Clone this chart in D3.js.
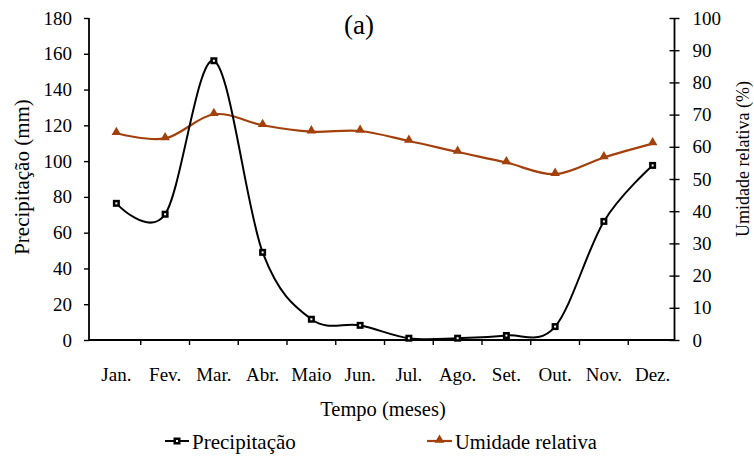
<!DOCTYPE html>
<html><head><meta charset="utf-8">
<script src="https://cdn.jsdelivr.net/npm/d3@7"></script>
<style>body{margin:0;background:#fff}svg{display:block}text{font-family:"Liberation Serif","Times New Roman",serif;fill:#000}</style>
</head><body>
<svg id="c" width="754" height="456"></svg>
<script>
const months = ["Jan.","Fev.","Mar.","Abr.","Maio","Jun.","Jul.","Ago.","Set.","Out.","Nov.","Dez."];
const precipitacao = [76.4, 70.3, 156.1, 49, 11.6, 8.2, 1, 1, 2.5, 7.5, 66.3, 97.6];
const umidade = [64.2, 62.6, 70.1, 66.7, 64.7, 64.9, 61.8, 58.4, 55.1, 51.5, 56.7, 61];
const leftTicks = [0,20,40,60,80,100,120,140,160,180];
const rightTicks = [0,10,20,30,40,50,60,70,80,90,100];

const svg = d3.select("#c");
const axL = 89, axR = 674.5, yTop = 18, yBot = 340;
const x = d3.scalePoint().domain(months).range([92, 677]).padding(0.5);
const yL = d3.scaleLinear().domain([0,180]).range([yBot, yTop]);
const yR = d3.scaleLinear().domain([0,100]).range([yBot, yTop]);
const rust = "#A3400C";
const fs = 19;

// left axis
const gL = svg.append("g").attr("transform", `translate(${axL},0)`)
  .call(d3.axisLeft(yL).tickValues(leftTicks).tickSize(5).tickPadding(12).tickFormat(d3.format("d")));
// right axis (cross ticks)
const gR = svg.append("g").attr("transform", `translate(${axR},0)`)
  .call(d3.axisRight(yR).tickValues(rightTicks).tickSize(5).tickPadding(13).tickFormat(d3.format("d")));
gR.selectAll(".tick line").attr("x1", -5);
// bottom axis
const bounds = months.map(m => x(m) - x.step()/2);
const gB = svg.append("g").attr("transform", `translate(0,${yBot})`);
gB.append("line").attr("x1", axL).attr("x2", axR).attr("stroke", "#000").attr("stroke-width", 1.8);
gB.selectAll("line.t").data(bounds.slice(1)).join("line").attr("class","t")
  .attr("x1", d=>d).attr("x2", d=>d).attr("y1", 0).attr("y2", 5).attr("stroke","#000").attr("stroke-width",1.4);
gB.selectAll("text").data(months).join("text")
  .attr("x", d => x(d)).attr("y", 41).attr("text-anchor","middle").attr("font-size", fs).text(d=>d);

[gL, gR].forEach(g => {
  g.selectAll(".domain").attr("stroke","#000").attr("stroke-width",1.8).attr("d", `M0,${yTop}V${yBot}`);
  g.selectAll(".tick line").attr("stroke","#000").attr("stroke-width",1.4);
  g.selectAll(".tick text").attr("font-size", fs).attr("font-family","Liberation Serif");
});

// lines
const lineP = d3.line().x((d,i)=>x(months[i])).y(d=>yL(d)).curve(d3.curveCardinal.tension(0));
const lineU = d3.line().x((d,i)=>x(months[i])).y(d=>yR(d)).curve(d3.curveCardinal.tension(0));
svg.append("path").attr("d", lineU(umidade)).attr("fill","none").attr("stroke", rust).attr("stroke-width", 2.2);
svg.append("path").attr("d", lineP(precipitacao)).attr("fill","none").attr("stroke", "#000").attr("stroke-width", 2);

const tri = d3.symbol().type(d3.symbolTriangle).size(40);
function sq(g, cx, cy){
  g.append("rect").attr("x", cx-3.5).attr("y", cy-3.5).attr("width",7).attr("height",7).attr("fill","#000");
  g.append("rect").attr("x", cx-1).attr("y", cy-1).attr("width",2).attr("height",2).attr("fill","#fff");
}
svg.append("g").selectAll("path").data(umidade).join("path")
  .attr("d", tri).attr("fill", rust)
  .attr("transform", (d,i)=>`translate(${x(months[i])},${yR(d)-1})`);
const gM = svg.append("g");
precipitacao.forEach((d,i)=> sq(gM, x(months[i]), yL(d)));

// titles
svg.append("text").attr("x", 359).attr("y", 34).attr("text-anchor","middle").attr("font-size", 27).text("(a)");
svg.append("text").attr("transform", `translate(29,177) rotate(-90)`).attr("text-anchor","middle").attr("font-size", 21).text("Precipitação (mm)");
svg.append("text").attr("transform", `translate(749,159) rotate(-90)`).attr("text-anchor","middle").attr("font-size", 18).text("Umidade relativa (%)");
svg.append("text").attr("x", 383).attr("y", 416).attr("text-anchor","middle").attr("font-size", 20.5).text("Tempo (meses)");

// legend
const lg = svg.append("g");
lg.append("line").attr("x1",165).attr("x2",189).attr("y1",441).attr("y2",441).attr("stroke","#000").attr("stroke-width",2);
sq(lg, 177, 441);
lg.append("text").attr("x",192).attr("y",449).attr("font-size",21).text("Precipitação");
lg.append("line").attr("x1",427).attr("x2",452).attr("y1",441).attr("y2",441).attr("stroke",rust).attr("stroke-width",2.2);
lg.append("path").attr("d", tri).attr("fill", rust).attr("transform","translate(439.5,440)");
lg.append("text").attr("x",455).attr("y",449).attr("font-size",20.5).text("Umidade relativa");
</script>
</body></html>
